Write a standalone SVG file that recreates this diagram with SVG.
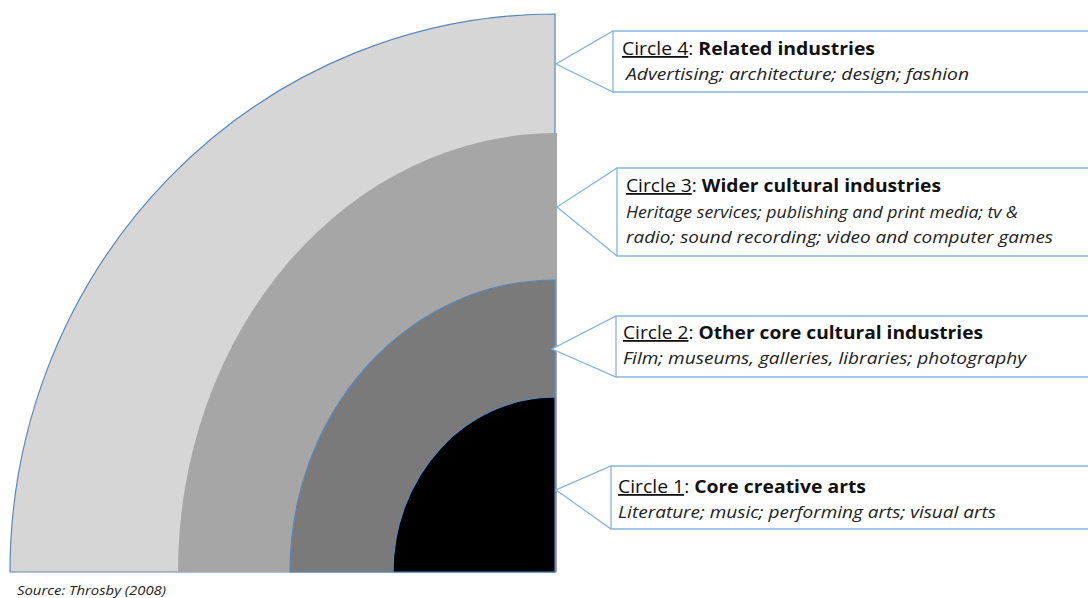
<svg xmlns="http://www.w3.org/2000/svg" width="1088" height="598" viewBox="0 0 1088 598">
<style>
.arc{stroke:#5a86b8;stroke-width:1.2}
.call{fill:#fff;stroke:#86b4e2;stroke-width:1.3}
.t{font-family:"Open Sans","Liberation Sans",sans-serif;font-size:17px;fill:#111}
.h{font-size:18px}
.b{font-weight:bold}
.u{text-decoration:underline}
.i{font-style:italic;fill:#222}
.src{font-family:"Open Sans","Liberation Sans",sans-serif;font-size:13px;font-style:italic;fill:#222}
</style>
<rect width="1088" height="598" fill="#fff"/>
<g id="circle4"><path class="arc" fill="#d6d6d6" d="M555 572 L10 572 A545 558 0 0 1 555 14 Z"/></g>
<g id="circle3"><path fill="#a6a6a6" d="M557 572 L178 572 A379 439 0 0 1 557 133 Z"/></g>
<g id="circle2"><path class="arc" fill="#7a7a7a" d="M555 572 L290 572 A265 292 0 0 1 555 280 Z"/></g>
<g id="circle1"><path class="arc" fill="#000" d="M555 572 L393 572 A162 175 0 0 1 555 397 Z"/></g>
<g id="connectors">
<path class="call" d="M1095 31 H613 L556 64 L613 92 H1095 M613 31 V92"/>
<path class="call" d="M1095 168 H617 L557 207 L617 256 H1095 M617 168 V256"/>
<path class="call" d="M1095 316 H616 L552 349 L616 377 H1095 M616 316 V377"/>
<path class="call" d="M1095 466 H611 L556 490 L611 529 H1095 M611 466 V529"/>
</g>
<g id="label4">
<text class="t h" x="622" y="55" textLength="253" lengthAdjust="spacingAndGlyphs"><tspan class="u">Circle 4</tspan>: <tspan class="b">Related industries</tspan></text>
<text class="t i" x="626" y="80" textLength="343" lengthAdjust="spacingAndGlyphs">Advertising; architecture; design; fashion</text>
</g>
<g id="label3">
<text class="t h" x="626" y="192" textLength="315" lengthAdjust="spacingAndGlyphs"><tspan class="u">Circle 3</tspan>: <tspan class="b">Wider cultural industries</tspan></text>
<text class="t i" x="626" y="218" textLength="392" lengthAdjust="spacingAndGlyphs">Heritage services; publishing and print media; tv &amp;</text>
<text class="t i" x="626" y="243" textLength="427" lengthAdjust="spacingAndGlyphs">radio; sound recording; video and computer games</text>
</g>
<g id="label2">
<text class="t h" x="623" y="339" textLength="360" lengthAdjust="spacingAndGlyphs"><tspan class="u">Circle 2</tspan>: <tspan class="b">Other core cultural industries</tspan></text>
<text class="t i" x="623" y="364" textLength="403" lengthAdjust="spacingAndGlyphs">Film; museums, galleries, libraries; photography</text>
</g>
<g id="label1">
<text class="t h" x="618" y="493" textLength="248" lengthAdjust="spacingAndGlyphs"><tspan class="u">Circle 1</tspan>: <tspan class="b">Core creative arts</tspan></text>
<text class="t i" x="618" y="518" textLength="378" lengthAdjust="spacingAndGlyphs">Literature; music; performing arts; visual arts</text>
</g>
<text class="src" x="17" y="595" textLength="149" lengthAdjust="spacingAndGlyphs">Source: Throsby (2008)</text>
</svg>
